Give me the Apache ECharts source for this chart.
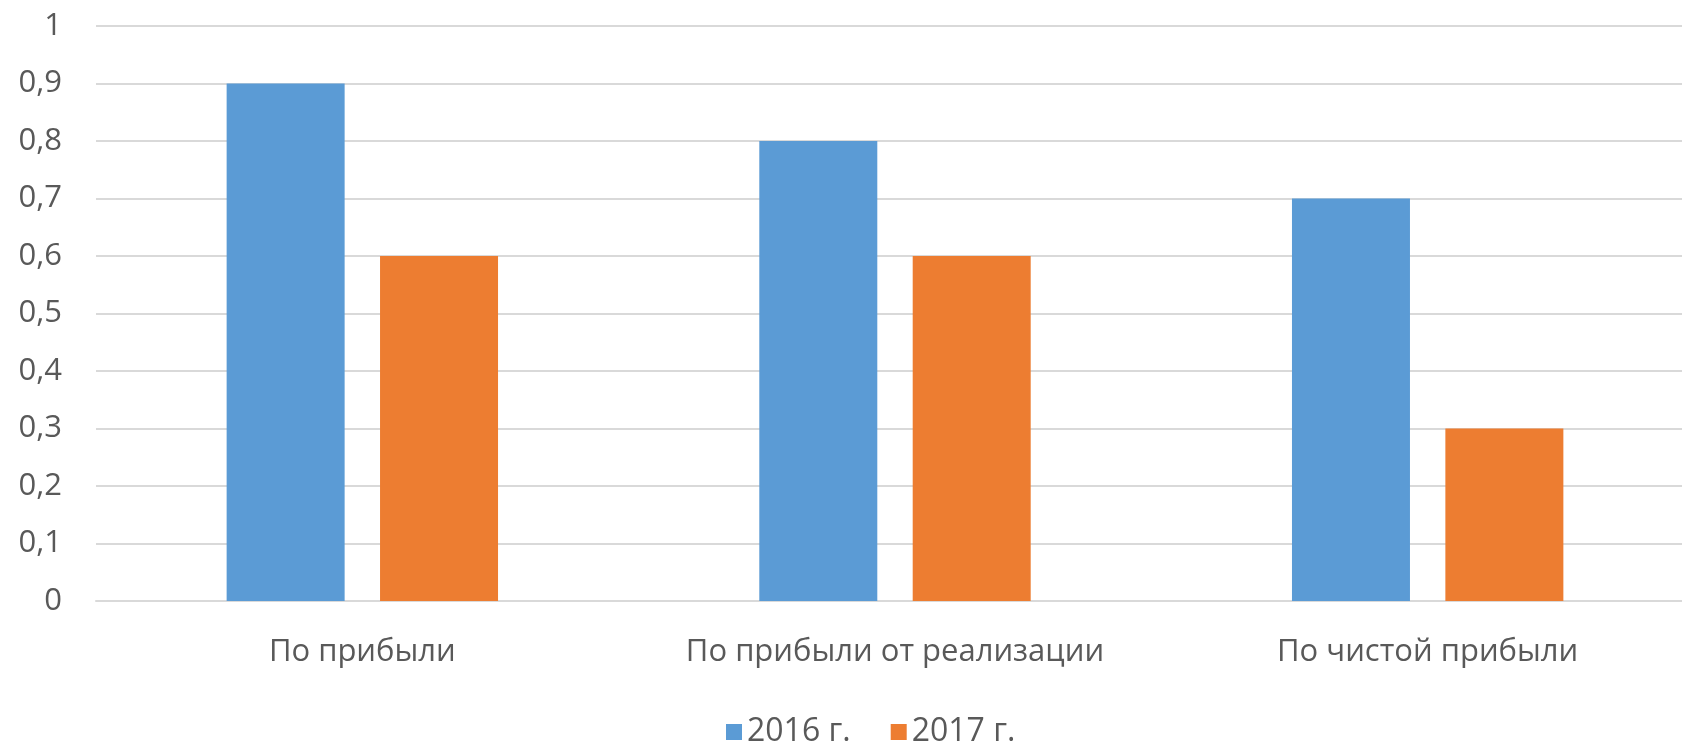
<!DOCTYPE html>
<html>
<head>
<meta charset="utf-8">
<script src="https://cdn.jsdelivr.net/npm/echarts@6/dist/echarts.min.js"></script>
<style>
  html, body { margin: 0; padding: 0; background: #ffffff; }
  #chart { width: 1682px; height: 745px; }
</style>
</head>
<body>
<div id="chart"></div>
<script>
// Categories along the x axis
const categories = ['По прибыли', 'По прибыли от реализации', 'По чистой прибыли'];
// Series values per year
const values2016 = [0.9, 0.8, 0.7];
const values2017 = [0.6, 0.6, 0.3];
const seriesNames = ['2016 г.', '2017 г.'];

const FONT = '"Open Sans", "Noto Sans", sans-serif';
const TEXT_COLOR = '#595959';

const chart = echarts.init(document.getElementById('chart'), null, { renderer: 'canvas' });

chart.setOption({
  animation: false,
  backgroundColor: '#ffffff',
  grid: {
    left: 96, top: 26, width: 1598, height: 575,
    containLabel: false, outerBoundsMode: 'none'
  },
  legend: {
    data: seriesNames,
    left: 721,
    top: 711,
    itemWidth: 16,
    itemHeight: 16,
    itemGap: 40,
    icon: 'rect',
    textStyle: { fontFamily: FONT, fontSize: 32, color: TEXT_COLOR }
  },
  xAxis: {
    type: 'category',
    data: categories,
    axisLine: { show: true, lineStyle: { color: '#d9d9d9', width: 2 } },
    axisTick: { show: false },
    axisLabel: { fontFamily: FONT, fontSize: 31, color: TEXT_COLOR, margin: 36, interval: 0 },
    splitLine: { show: false }
  },
  yAxis: {
    type: 'value',
    min: 0,
    max: 1,
    interval: 0.1,
    axisLine: { show: false },
    axisTick: { show: false },
    axisLabel: {
      fontFamily: FONT, fontSize: 31, color: TEXT_COLOR, margin: 34,
      formatter: v => String(Math.round(v * 10) / 10).replace('.', ',')
    },
    splitLine: { lineStyle: { color: '#d9d9d9', width: 2 } }
  },
  series: [
    {
      name: seriesNames[0], type: 'bar', data: values2016,
      barWidth: 118, barGap: '30%',
      itemStyle: { color: '#5b9bd5' }
    },
    {
      name: seriesNames[1], type: 'bar', data: values2017,
      barWidth: 118, barGap: '30%',
      itemStyle: { color: '#ed7d31' }
    }
  ]
});
</script>
</body>
</html>
